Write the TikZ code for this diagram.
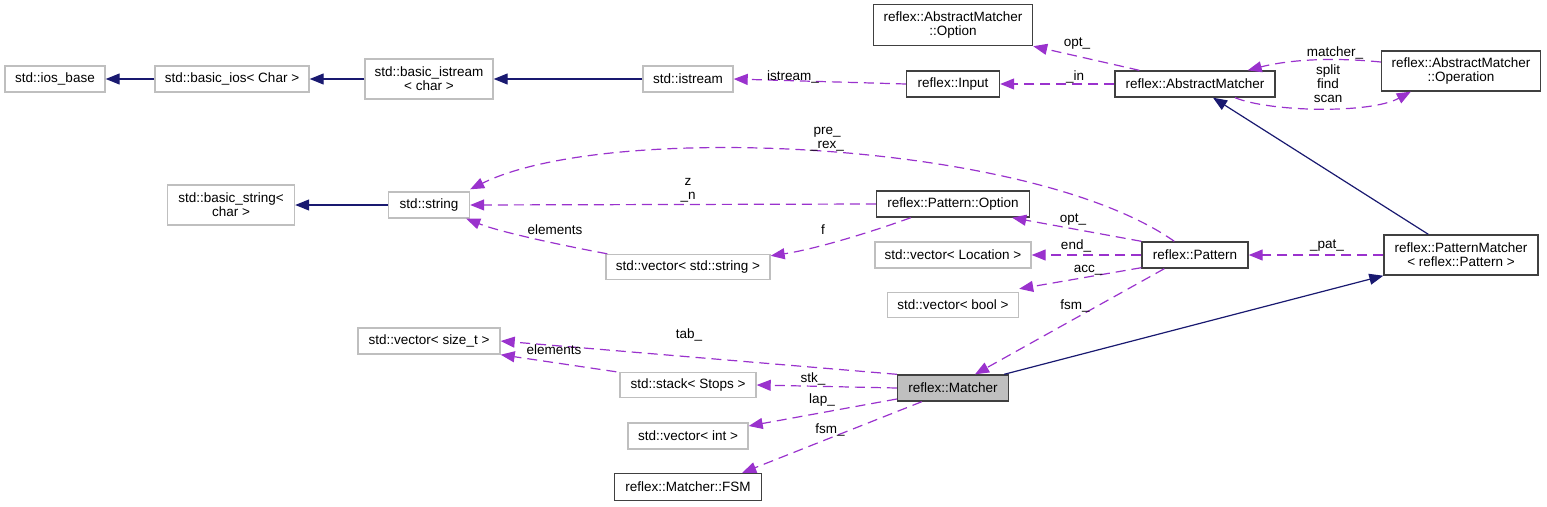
\documentclass[tikz,border=0pt]{standalone}
\usepackage{fontspec}
\setmainfont{Liberation Sans}
\usetikzlibrary{arrows.meta}
\definecolor{inhcol}{HTML}{191970}
\definecolor{memcol}{HTML}{9A32CD}
\definecolor{stdcol}{HTML}{BFBFBF}
\definecolor{refcol}{HTML}{404040}
\begin{document}
\begin{tikzpicture}[x=1pt,y=-1pt,
	font=\fontsize{13.5}{14}\selectfont,
	box/.style={draw,line width=1.4pt,inner sep=0pt,align=center,minimum height=26pt},
	stdbox/.style={box,draw=stdcol},
	refbox/.style={box,draw=refcol},
	curbox/.style={box,draw=refcol,fill=stdcol},
	inh/.style={draw=inhcol,line width=1.2pt,-{Triangle[length=14pt,width=11pt,fill=inhcol]}},
	mem/.style={draw=memcol,line width=1.2pt,dash pattern=on 10pt off 6pt,-{Triangle[length=14pt,width=11pt,fill=memcol]}},
	lbl/.style={inner sep=0pt,align=center}]
	\useasboundingbox (0,0) rectangle (1547,506);
	% classes
	\node[stdbox,minimum width=100pt] (iosbase) at (55,79) {std::ios\_base};
	\node[stdbox,minimum width=154pt] (bios) at (232,79) {std::basic\_ios< Char >};
	\node[stdbox,minimum width=128pt,minimum height=40pt] (bistream) at (429,79) {std::basic\_istream\\< char >};
	\node[stdbox,minimum width=90pt] (istream) at (688,79) {std::istream};
	\node[refbox,minimum width=93pt] (input) at (953,84) {reflex::Input};
	\node[refbox,minimum width=159pt,minimum height=41pt] (aopt) at (953,25) {reflex::AbstractMatcher\\::Option};
	\node[refbox,minimum width=160pt] (amatch) at (1195,84) {reflex::AbstractMatcher};
	\node[refbox,minimum width=159pt,minimum height=40pt] (aop) at (1461,71) {reflex::AbstractMatcher\\::Operation};
	\node[stdbox,minimum width=127pt,minimum height=40pt] (bstring) at (231,205) {std::basic\_string<\\char >};
	\node[stdbox,minimum width=81pt] (string) at (429,205) {std::string};
	\node[refbox,minimum width=153pt] (popt) at (953,204) {reflex::Pattern::Option};
	\node[stdbox,minimum width=164pt,minimum height=25pt] (vstr) at (688,267) {std::vector< std::string >};
	\node[stdbox,minimum width=156pt] (vloc) at (953,255) {std::vector< Location >};
	\node[refbox,minimum width=106pt] (pattern) at (1195,255) {reflex::Pattern};
	\node[stdbox,minimum width=131pt,minimum height=25pt] (vbool) at (953,305) {std::vector< bool >};
	\node[refbox,minimum width=154pt,minimum height=40pt] (pmatch) at (1461,255) {reflex::PatternMatcher\\< reflex::Pattern >};
	\node[stdbox,minimum width=142pt] (vsize) at (429,341) {std::vector< size\_t >};
	\node[stdbox,minimum width=136pt,minimum height=25pt] (stack) at (688,385) {std::stack< Stops >};
	\node[curbox,minimum width=111pt] (matcher) at (953,388) {reflex::Matcher};
	\node[stdbox,minimum width=120pt] (vint) at (688,436) {std::vector< int >};
	\node[refbox,minimum width=147pt,minimum height=27pt] (fsm) at (688,487) {reflex::Matcher::FSM};
	% inheritance
	\draw[inh] (bios) -- (iosbase);
	\draw[inh] (bistream) -- (bios);
	\draw[inh] (istream) -- (bistream);
	\draw[inh] (string) -- (bstring);
	\draw[inh] ([xshift=45pt]pmatch.north west) -- ([xshift=18pt]amatch.south);
	\draw[inh] ([xshift=-5pt]matcher.north east) -- (pmatch.south west);
	% members
	\draw[mem] (input.west) -- (istream.east);
	\draw[mem] ([xshift=25pt]amatch.north west) -- (aopt.south east);
	\draw[mem] (amatch.west) -- (input.east);
	\draw[mem] ([yshift=9pt]aop.west) .. controls (1320,56) and (1280,62) .. ([xshift=-28pt]amatch.north east);
	\draw[mem] ([xshift=40pt]amatch.south) .. controls (1270,112) and (1370,114) .. ([xshift=30pt]aop.south west);
	\draw[mem] ([xshift=33pt]pattern.north west) .. controls (1030,140) and (608,121) .. ([yshift=2pt]string.north east);
	\draw[mem] (popt.west) -- (string.east);
	\draw[mem] ([xshift=2pt]vstr.north west) .. controls (560,245) and (500,232) .. ([xshift=-4pt]string.south east);
	\draw[mem] ([xshift=35pt]popt.south west) .. controls (860,236) and (810,250) .. ([yshift=-2pt]vstr.north east);
	\draw[mem] (pattern.north west) -- ([xshift=-18pt]popt.south east);
	\draw[mem] (pattern.west) -- (vloc.east);
	\draw[mem] ([yshift=1pt]pattern.south west) -- ([yshift=3pt]vbool.north east);
	\draw[mem] ([xshift=23pt]pattern.south west) -- ([xshift=22pt]matcher.north);
	\draw[mem] (pmatch.west) -- (pattern.east);
	\draw[mem] (matcher.north west) -- (vsize.east);
	\draw[mem] ([xshift=-3pt]stack.north west) -- (vsize.south east);
	\draw[mem] (matcher.west) -- (stack.east);
	\draw[mem] ([yshift=-11pt]matcher.west) -- ([yshift=10pt]vint.east);
	\draw[mem] ([xshift=25pt]matcher.south west) -- ([xshift=-20pt]fsm.north east);
	% member names
	\node[lbl] (listream) at (793,77) {istream\_};
	\node[lbl] (laopt) at (1077,44) {opt\_};
	\node[lbl] (lin) at (1075,77) {\_in};
	\node[lbl] (lmatcher) at (1335,53) {matcher\_};
	\node[lbl] (lop) at (1328,84) {split\\find\\scan};
	\node[lbl] (lrex) at (827,139) {pre\_\\\_rex\_};
	\node[lbl] (lzn) at (688,190) {z\\\_n};
	\node[lbl] (lelem) at (555,230) {elements};
	\node[lbl] (lf) at (823,230) {f};
	\node[lbl] (lpopt) at (1073,220) {opt\_};
	\node[lbl] (lend) at (1076,246) {end\_};
	\node[lbl] (lacc) at (1088,270) {acc\_};
	\node[lbl] (lfsm) at (1075,306) {fsm\_};
	\node[lbl] (lpat) at (1327,246) {\_pat\_};
	\node[lbl] (ltab) at (689,335) {tab\_};
	\node[lbl] (lelem2) at (554,350) {elements};
	\node[lbl] (lstk) at (813,379) {stk\_};
	\node[lbl] (llap) at (822,400) {lap\_};
	\node[lbl] (lfsm2) at (830,430) {fsm\_};
\end{tikzpicture}
\end{document}
